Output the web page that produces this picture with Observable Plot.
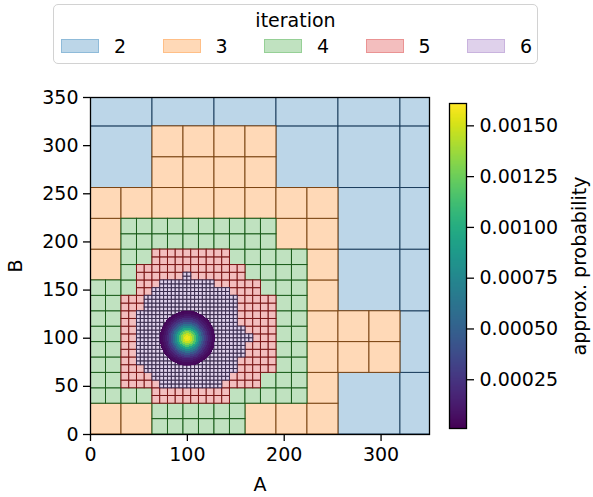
<!DOCTYPE html>
<html><head><meta charset="utf-8">
<script src="https://cdn.jsdelivr.net/npm/d3@7"></script>
<script src="https://cdn.jsdelivr.net/npm/@observablehq/plot@0.6"></script>
<style>
body{margin:0;background:#fff;font-family:"DejaVu Sans",sans-serif;}
#wrap{position:relative;width:593px;height:497px;overflow:hidden;background:#fff;}
#wrap svg{position:absolute;}
.leg{position:absolute;left:53px;top:4px;width:485px;height:60px;border:1.5px solid #d2d2d2;border-radius:5px;box-sizing:border-box;background:#fff;font-size:19px;color:#000;}
.leg .ttl{position:absolute;left:0;right:0;top:4px;text-align:center;line-height:22px;}
.leg .sw{position:absolute;top:34px;width:38px;height:14px;box-sizing:border-box;border:1.5px solid;}
.leg .lb{position:absolute;top:30px;line-height:22px;}
</style></head><body><div id="wrap"></div>
<script>
// ---- data ----
const iterations = [2, 3, 4, 5, 6];
const iterFill = ["#bcd6e8", "#ffd9b7", "#c0e2c0", "#f3bebe", "#dfd1eb"];
const iterEdge = ["#1d3f5e", "#7c4614", "#1a5c1a", "#7a1717", "#3b2d4f"];
const legendEdge = ["#8fbbd9", "#ffbf87", "#96d096", "#ea9393", "#c9b3de"];

// iteration-2 grid (cells of 64 units)
const coarseStarts = [0, 64, 128, 192, 256, 320];
const coarseSize = 64;

// refined cells per iteration, as rows: [row bottom, x start, x end]
const split2 = [[0, 0, 256], [64, 0, 320], [128, 0, 256], [192, 0, 256], [256, 64, 192]];
const split3 = [[0, 64, 160], [32, 0, 224], [64, 0, 224], [96, 0, 224], [128, 0, 224], [160, 32, 224], [192, 32, 192]];
const split4 = [[32, 64, 144], [48, 32, 176], [64, 32, 192], [80, 32, 192], [96, 32, 192], [112, 32, 192],
                [128, 32, 192], [144, 48, 176], [160, 48, 160], [176, 64, 144]];
const split5 = [[48, 72, 136], [56, 64, 144], [64, 56, 152], [72, 48, 152], [80, 48, 160], [88, 48, 160],
                [96, 48, 168], [104, 48, 160], [112, 48, 152], [120, 48, 152], [128, 56, 152], [136, 56, 152],
                [144, 64, 144], [152, 72, 128], [160, 96, 104]];
const splits = [split2, split3, split4, split5];

// probability blob: radial profile
const blobCenter = [100, 100];
const blobRadius = 28.5;
const blobRadii = [0, 2, 4, 6, 8, 10, 12, 14, 16, 18, 20, 22, 24, 26, 28];
const blobProb = [0.00159, 0.00156, 0.00147, 0.00133, 0.00116, 0.00096, 0.00077, 0.00060,
                  0.00044, 0.00031, 0.00021, 0.00014, 0.00009, 0.00005, 0.00003];

const probDomain = [0.00001, 0.00161];
const probTicks = [0.00025, 0.0005, 0.00075, 0.001, 0.00125, 0.0015];
const xTicks = [0, 100, 200, 300];
const yTicks = [0, 50, 100, 150, 200, 250, 300, 350];

// ---- build leaf cells ----
let current = [];
for (const y of coarseStarts) for (const x of coarseStarts)
  current.push({x1: x, y1: y, x2: x + coarseSize, y2: y + coarseSize});
const leaves = [];
iterations.forEach((it, k) => {
  const rows = splits[k] || [];
  const next = [];
  for (const c of current) {
    const refined = rows.some(([ry, a, b]) => c.y1 === ry && c.x1 >= a && c.x2 <= b);
    if (refined) {
      const h = (c.x2 - c.x1) / 2;
      for (const dy of [0, h]) for (const dx of [0, h])
        next.push({x1: c.x1 + dx, y1: c.y1 + dy, x2: c.x1 + dx + h, y2: c.y1 + dy + h});
    } else leaves.push({...c, iteration: it});
  }
  current = next;
});

function probAt(x, y) {
  const d = Math.hypot(x - blobCenter[0], y - blobCenter[1]);
  if (d > blobRadius) return NaN;
  const i = d3.minIndex(blobRadii, r => Math.abs(r - d));
  return blobProb[i];
}

const wrap = document.getElementById("wrap");

// ---- legend ----
const leg = document.createElement("div");
leg.className = "leg";
leg.innerHTML = `<div class="ttl">iteration</div>` + iterations.map((it, i) =>
  `<div class="sw" style="left:${7 + i * 101.5}px;background:${iterFill[i]};border-color:${legendEdge[i]}"></div>` +
  `<div class="lb" style="left:${60 + i * 101.5}px">${it}</div>`).join("");
wrap.appendChild(leg);

// ---- main plot ----
const font = {fontFamily: "DejaVu Sans", fontSize: "19px", color: "#000", background: "transparent", overflow: "visible"};
const main = Plot.plot({
  width: 440, height: 427,
  marginLeft: 90, marginRight: 11, marginTop: 27, marginBottom: 63,
  x: {domain: [0, 350]},
  y: {domain: [0, 350]},
  color: {type: "linear", scheme: "viridis", domain: probDomain},
  style: font,
  marks: [
    ...iterations.map((it, i) => Plot.rect(leaves.filter(d => d.iteration === it), {
      x1: "x1", x2: "x2", y1: "y1", y2: "y2",
      fill: iterFill[i], stroke: iterEdge[i], strokeWidth: 1, clip: true
    })),
    Plot.raster({
      x1: blobCenter[0] - blobRadius, x2: blobCenter[0] + blobRadius,
      y1: blobCenter[1] - blobRadius, y2: blobCenter[1] + blobRadius,
      width: 114, height: 114, fill: probAt, imageRendering: "pixelated"
    }),
    Plot.frame({stroke: "#000", strokeWidth: 1.3}),
    Plot.axisX({ticks: xTicks, tickSize: 7, tickPadding: 6, strokeWidth: 1.3, tickFormat: d => String(d),
      label: "A", labelAnchor: "center", labelOffset: 56, labelArrow: "none"}),
    Plot.axisY({ticks: yTicks, tickSize: 7, tickPadding: 5, strokeWidth: 1.3, tickFormat: d => String(d),
      label: "B", labelAnchor: "center", labelOffset: 82, labelArrow: "none"})
  ]
});
main.style.left = "0px"; main.style.top = "70px";
wrap.appendChild(main);

// ---- colour bar ----
const bar = Plot.plot({
  width: 153, height: 427,
  marginLeft: 9, marginRight: 127, marginTop: 33, marginBottom: 69,
  x: {domain: [0, 1], axis: null},
  y: {domain: probDomain, axis: null},
  color: {type: "linear", scheme: "viridis", domain: probDomain},
  style: font,
  marks: [
    Plot.raster({x1: 0, x2: 1, y1: probDomain[0], y2: probDomain[1], width: 1, height: 325, fill: (x, y) => y}),
    Plot.frame({stroke: "#000", strokeWidth: 1.3}),
    Plot.axisY({anchor: "right", ticks: probTicks, tickFormat: d3.format(".5f"), tickSize: 7, tickPadding: 6,
      strokeWidth: 1.3, label: "approx. probability", labelAnchor: "center", labelOffset: 119, labelArrow: "none"})
  ]
});
bar.style.left = "440px"; bar.style.top = "70px";
wrap.appendChild(bar);
</script></body></html>
